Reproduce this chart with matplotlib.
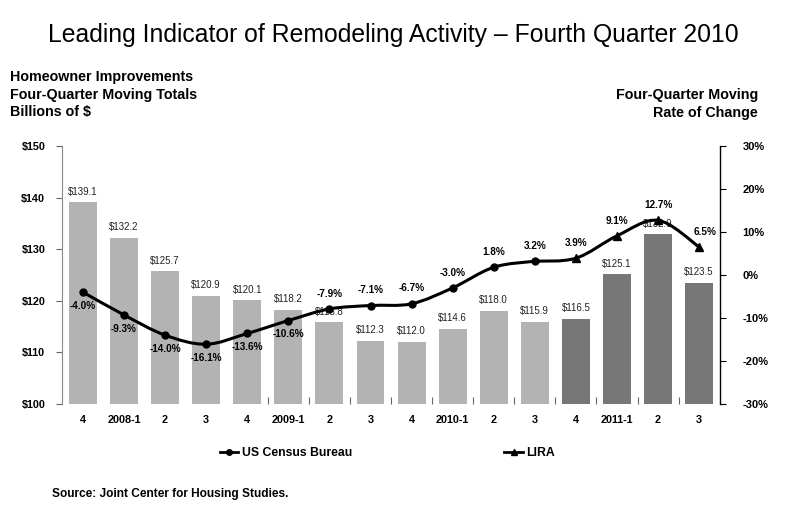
import matplotlib
matplotlib.use('Agg')
import matplotlib.pyplot as plt
from matplotlib.path import Path
from matplotlib.patches import PathPatch

plt.rcParams['font.family'] = ['Liberation Sans', 'DejaVu Sans']

quarters = ['4', '2008-1', '2', '3', '4', '2009-1', '2', '3', '4',
            '2010-1', '2', '3', '4', '2011-1', '2', '3']
spending = [139.1, 132.2, 125.7, 120.9, 120.1, 118.2, 115.8, 112.3, 112.0,
            114.6, 118.0, 115.9, 116.5, 125.1, 132.9, 123.5]
census_rate = [-4.0, -9.3, -14.0, -16.1, -13.6, -10.6, -7.9, -7.1, -6.7,
               -3.0, 1.8, 3.2]
lira_rate = [3.2, 3.9, 9.1, 12.7, 6.5]
n_actual = 12


def smooth_path(xs, ys):
    # Catmull-Rom style bezier, like Excel's smoothed lines
    verts = [(xs[0], ys[0])]
    codes = [Path.MOVETO]
    n = len(xs)
    for i in range(n - 1):
        x0, y0 = (xs[i - 1], ys[i - 1]) if i > 0 else (xs[i], ys[i])
        x1, y1 = xs[i], ys[i]
        x2, y2 = xs[i + 1], ys[i + 1]
        x3, y3 = (xs[i + 2], ys[i + 2]) if i + 2 < n else (x2, y2)
        c1 = (x1 + (x2 - x0) / 6, y1 + (y2 - y0) / 6)
        c2 = (x2 - (x3 - x1) / 6, y2 - (y3 - y1) / 6)
        verts += [c1, c2, (x2, y2)]
        codes += [Path.CURVE4] * 3
    return Path(verts, codes)


fig = plt.figure(figsize=(7.87, 5.25), dpi=100)
ax = fig.add_axes([0.0788, 0.2305, 0.8362, 0.4915])
ax2 = ax.twinx()

x = list(range(len(quarters)))
colors = ['#b3b3b3'] * n_actual + ['#777777'] * (len(quarters) - n_actual)
ax.bar(x, [v - 100 for v in spending], bottom=100, width=0.68, color=colors, zorder=2)
for xi, v in zip(x, spending):
    ax.text(xi, v + 1.1, '$%.1f' % v, ha='center', va='bottom', fontsize=7, color='#222222')

ax.set_xlim(-0.51, 15.51)
ax.set_ylim(100, 150)
ax.set_yticks([100, 110, 120, 130, 140, 150])
ax.set_yticklabels(['$%d' % t for t in range(100, 151, 10)], fontsize=7.8, fontweight='bold')
ax.set_xticks(x)
ax.set_xticklabels(quarters, fontsize=7.8, fontweight='bold')
ax.tick_params(axis='x', length=0, pad=8)
ax.set_xticks([i + 0.5 for i in range(4, 15)], minor=True)
ax.tick_params(axis='x', which='minor', length=5, direction='in', color='#666666', width=0.8)
ax.tick_params(axis='y', length=4, width=0.8, color='#666666', pad=8)
for s in ['top', 'bottom', 'right']:
    ax.spines[s].set_visible(False)
ax.spines['left'].set_color('#888888')

# rate of change lines
cx = x[:n_actual]
lx = x[n_actual - 1:]
ax2.add_patch(PathPatch(smooth_path(cx, census_rate), fill=False, lw=2.2, color='black', zorder=3))
ax2.add_patch(PathPatch(smooth_path(lx, lira_rate), fill=False, lw=2.2, color='black', zorder=3))
ax2.plot(cx, census_rate, 'o', color='black', ms=5, zorder=4)
ax2.plot(lx[1:], lira_rate[1:], '^', color='black', ms=6, zorder=4)

for i, v in enumerate(census_rate):
    if i <= 5:
        ax2.text(cx[i], v - 2.0, '%.1f%%' % v, ha='center', va='top', fontsize=7.2, fontweight='bold')
    else:
        ax2.text(cx[i], v + 2.4, '%.1f%%' % v, ha='center', va='bottom', fontsize=7.2, fontweight='bold')
for i, v in enumerate(lira_rate[1:]):
    xi = lx[i + 1]
    dx = 0.15 if i == len(lira_rate) - 2 else 0
    ax2.text(xi + dx, v + 2.4, '%.1f%%' % v, ha='center', va='bottom', fontsize=7.2, fontweight='bold')

ax2.set_ylim(-30, 30)
ax2.set_yticks(range(-30, 31, 10))
ax2.set_yticklabels(['%d%%' % t for t in range(-30, 31, 10)], fontsize=8, fontweight='bold')
ax2.tick_params(axis='y', length=4, width=0.8, pad=12)
for s in ['top', 'bottom', 'left']:
    ax2.spines[s].set_visible(False)
ax2.spines['right'].set_linewidth(1.0)

# legend
ax2.plot([], [], '-o', color='black', ms=4, lw=2, label='US Census Bureau')
ax2.plot([], [], '-^', color='black', ms=5, lw=2, label='LIRA')
handles, labels = ax2.get_legend_handles_labels()
fig.legend(handles[:1], labels[:1], loc='center left', bbox_to_anchor=(0.265, 0.137),
           frameon=False, handlelength=1.5, handletextpad=0.3,
           prop={'weight': 'bold', 'size': 8.8})
fig.legend(handles[1:], labels[1:], loc='center left', bbox_to_anchor=(0.627, 0.137),
           frameon=False, handlelength=1.5, handletextpad=0.3,
           prop={'weight': 'bold', 'size': 8.8})

fig.text(0.5, 0.933, 'Leading Indicator of Remodeling Activity \u2013 Fourth Quarter 2010',
         ha='center', va='center', fontsize=17.8)
fig.text(0.0127, 0.866, 'Homeowner Improvements\nFour-Quarter Moving Totals\nBillions of $',
         ha='left', va='top', fontsize=10.3, fontweight='bold', linespacing=1.32)
fig.text(0.963, 0.832, 'Four-Quarter Moving\nRate of Change',
         ha='right', va='top', fontsize=10.3, fontweight='bold', linespacing=1.32)
fig.text(0.066, 0.06, 'Source: Joint Center for Housing Studies.',
         ha='left', va='center', fontsize=8.6, fontweight='bold')

fig.savefig('out.png', dpi=100, facecolor='white')
